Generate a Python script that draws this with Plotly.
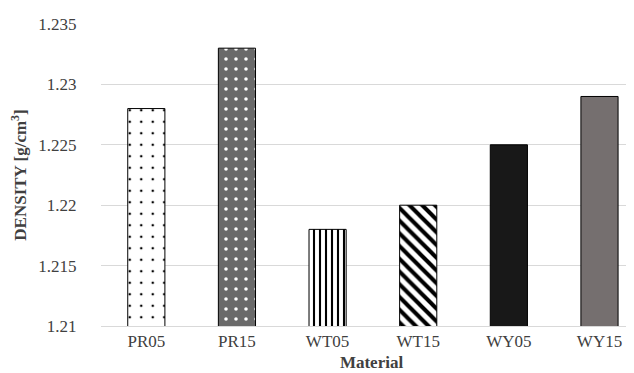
import plotly.graph_objects as go

materials = ["PR05", "PR15", "WT05", "WT15", "WY05", "WY15"]
density = [1.228, 1.233, 1.218, 1.220, 1.225, 1.229]
y_ticks = [1.21, 1.215, 1.22, 1.225, 1.23, 1.235]
y_tick_labels = ["1.21", "1.215", "1.22", "1.225", "1.23", "1.235"]

bg_colors = ["white", "#6a6a6a", "white", "white", "#181818", "#756f6f"]
fg_colors = ["black", "white", "black", "black", "black", "black"]
shapes = [".", ".", "|", "\\", "", ""]
sizes = [11.5, 10, 6, 9, 8, 8]
solidity = [0.04, 0.1, 0.35, 0.45, 0.3, 0.3]

fig = go.Figure()
for i, m in enumerate(materials):
    fig.add_trace(go.Bar(
        x=[m],
        y=[density[i]],
        width=0.41,
        marker=dict(
            color=bg_colors[i],
            line=dict(color="black", width=1),
            pattern=dict(shape=shapes[i], bgcolor=bg_colors[i], fgcolor=fg_colors[i],
                         size=sizes[i], solidity=solidity[i], fillmode="replace"),
        ),
        showlegend=False,
    ))

font = "Liberation Serif, Times New Roman, serif"
txt = "#404040"
fig.update_layout(
    width=634, height=373,
    margin=dict(l=93, r=0, t=16, b=55),
    paper_bgcolor="white", plot_bgcolor="white",
    barmode="overlay",
    font=dict(family=font, size=17, color=txt),
    xaxis=dict(
        range=[-0.5, 5.469],
        showgrid=False, automargin=False,
        showline=True, linecolor="#d9d9d9", linewidth=1,
        tickfont=dict(family=font, size=17, color=txt),
        title=dict(text="<b>Material</b>", font=dict(family=font, size=17, color=txt), standoff=5),
    ),
    yaxis=dict(
        range=[1.21, 1.235],
        tickvals=y_ticks, ticktext=y_tick_labels,
        showgrid=True, gridcolor="#d9d9d9", gridwidth=1,
        zeroline=False, showline=False, automargin=False,
        ticks="outside", ticklen=20, tickcolor="rgba(0,0,0,0)",
        tickfont=dict(family=font, size=17, color=txt),
        title=dict(text="<b>DENSITY [g/cm<sup>3</sup>]</b>", font=dict(family=font, size=17, color=txt), standoff=7),
    ),
)

fig.write_html("out.html")
